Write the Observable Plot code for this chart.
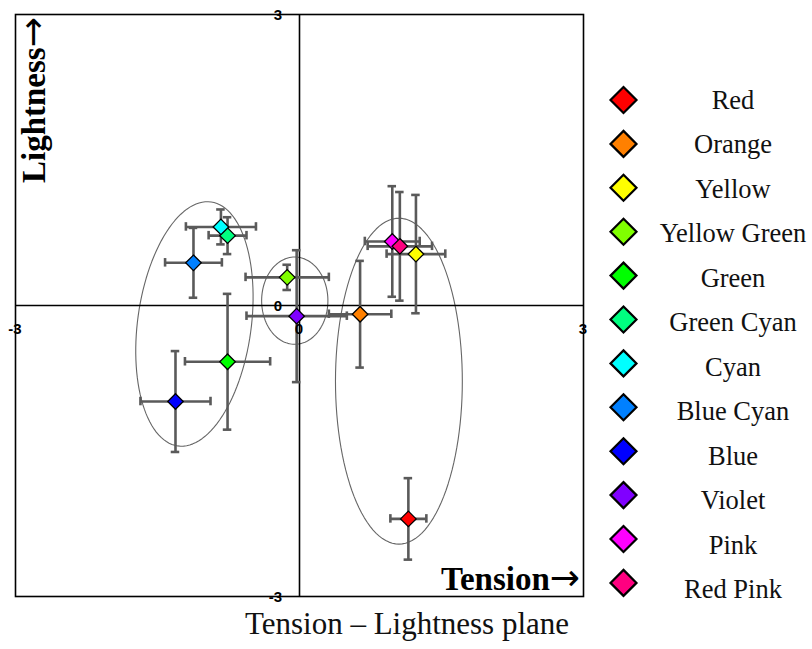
<!DOCTYPE html>
<html><head><meta charset="utf-8">
<script src="https://cdn.jsdelivr.net/npm/d3@7"></script>
<script src="https://cdn.jsdelivr.net/npm/@observablehq/plot@0.6"></script>
<style>
body{margin:0;background:#fff;}
#wrap{position:relative;width:812px;height:649px;overflow:hidden;background:#fff;}
#wrap svg{position:absolute;left:0;top:0;}
</style></head><body><div id="wrap"></div>
<script>
// ---- data ----
const names = ["Red","Orange","Yellow","Yellow Green","Green","Green Cyan","Cyan","Blue Cyan","Blue","Violet","Pink","Red Pink"];
const colors = ["#ff0000","#ff8000","#ffff00","#80ff00","#00ff00","#00ff80","#00ffff","#0080ff","#0000ff","#8000ff","#ff00ff","#ff0080"];
const tension = [1.15, 0.64, 1.23, -0.13, -0.76, -0.76, -0.83, -1.12, -1.31, -0.03, 0.98, 1.06];
const lightness = [-2.20, -0.09, 0.53, 0.29, -0.58, 0.72, 0.81, 0.44, -0.99, -0.11, 0.66, 0.61];
const tensionErr = [0.19, 0.33, 0.31, 0.44, 0.45, 0.20, 0.37, 0.30, 0.37, 0.53, 0.29, 0.34];
const lightnessErr = [0.42, 0.55, 0.61, 0.13, 0.70, 0.19, 0.18, 0.36, 0.52, 0.68, 0.57, 0.56];
// cluster ellipses (data units)
const ellipseCx = [-1.11, -0.05, 1.05];
const ellipseCy = [-0.19, 0.05, -0.78];
const ellipseRx = [0.60, 0.35, 0.67];
const ellipseRy = [1.27, 0.45, 1.68];
const ellipseTilt = [8, 0, 0];
// ticks & texts
const xTicks = [-3, 0, 3];
const yTicks = [-3, 0, 3];
const xTitle = "Tension";
const yTitle = "Lightness";
const arrow = "\u2192";
const caption = "Tension \u2013 Lightness plane";

const data = names.map((name, i) => ({name, color: colors[i], x: tension[i], y: lightness[i], ex: tensionErr[i], ey: lightnessErr[i]}));
const ellPts = [];
ellipseCx.forEach((cx, k) => {
  const phi = ellipseTilt[k] * Math.PI / 180;
  for (let j = 0; j <= 120; j++) {
    const t = j / 120 * 2 * Math.PI;
    const u = ellipseRx[k] * Math.cos(t), v = ellipseRy[k] * Math.sin(t);
    ellPts.push({id: k, x: cx + u * Math.cos(phi) + v * Math.sin(phi), y: ellipseCy[k] - u * Math.sin(phi) + v * Math.cos(phi)});
  }
});

const capX = 0.045, capY = 0.044;
const eb = {stroke: "#5a5a5a", strokeWidth: 2.6};

const chart = Plot.plot({
  width: 812, height: 610,
  marginLeft: 15, marginRight: 229, marginTop: 14, marginBottom: 14,
  x: {domain: [-3, 3], axis: null},
  y: {domain: [-3, 3], axis: null},
  color: {type: "identity"},
  style: {background: "transparent", overflow: "visible"},
  marks: [
    Plot.line(ellPts, {x: "x", y: "y", z: "id", stroke: "#666", strokeWidth: 1.1}),
    Plot.ruleX([0], {stroke: "#000", strokeWidth: 1.6}),
    Plot.ruleY([0], {stroke: "#000", strokeWidth: 1.6}),
    Plot.frame({stroke: "#000", strokeWidth: 1.6}),
    Plot.ruleY(data, {y: "y", x1: d => d.x - d.ex, x2: d => d.x + d.ex, ...eb}),
    Plot.ruleX(data, {x: "x", y1: d => d.y - d.ey, y2: d => d.y + d.ey, ...eb}),
    Plot.ruleX(data, {x: d => d.x - d.ex, y1: d => d.y - capY, y2: d => d.y + capY, ...eb}),
    Plot.ruleX(data, {x: d => d.x + d.ex, y1: d => d.y - capY, y2: d => d.y + capY, ...eb}),
    Plot.ruleY(data, {y: d => d.y - d.ey, x1: d => d.x - capX, x2: d => d.x + capX, ...eb}),
    Plot.ruleY(data, {y: d => d.y + d.ey, x1: d => d.x - capX, x2: d => d.x + capX, ...eb}),
    Plot.dot(data, {x: "x", y: "y", symbol: "diamond2", r: 7, fill: "color", stroke: "#000", strokeWidth: 1.3})
  ]
});
const wrap = document.getElementById("wrap");
wrap.appendChild(chart);
const sx = chart.scale("x"), sy = chart.scale("y");

// ---- tick labels, titles, legend & caption overlay ----
const serif = "Liberation Serif, Times New Roman, serif";
const ov = d3.select(wrap).append("svg").attr("width", 812).attr("height", 649);
const tl = ov.append("g").attr("font-family", "Liberation Sans, Arial, sans-serif").attr("font-weight", "bold")
  .attr("font-size", 15).attr("fill", "#000");
tl.selectAll("text.yt").data(yTicks).join("text").attr("class", "yt")
  .attr("x", sx.apply(0) - 17).attr("y", d => sy.apply(d) + 5.5).attr("text-anchor", "end").text(d => String(d));
tl.selectAll("text.xt").data(xTicks).join("text").attr("class", "xt")
  .attr("x", d => sx.apply(d)).attr("y", sy.apply(0) + 28.5).attr("text-anchor", "middle").text(d => String(d));

const xt = ov.append("text").attr("x", 580).attr("y", 590).attr("text-anchor", "end")
  .attr("font-family", serif).attr("font-weight", "bold").attr("font-size", 33).attr("fill", "#000");
xt.append("tspan").text(xTitle);
xt.append("tspan").attr("font-family", "DejaVu Sans").attr("font-weight", "normal").attr("font-size", 36).text(arrow);
const yt = ov.append("text").attr("transform", "translate(45,183) rotate(-90)").attr("text-anchor", "start")
  .attr("font-family", serif).attr("font-weight", "bold").attr("font-size", 33).attr("fill", "#000");
yt.append("tspan").text(yTitle);
yt.append("tspan").attr("font-family", "DejaVu Sans").attr("font-weight", "normal").attr("font-size", 36).text(arrow);

const lg = ov.selectAll("g.item").data(data).join("g").attr("class", "item");
lg.append("path")
  .attr("d", "M0,-13L13,0L0,13L-13,0Z")
  .attr("transform", (d, i) => `translate(623.5,${100 + i * 43.9})`)
  .attr("fill", d => d.color).attr("stroke", "#000").attr("stroke-width", 2.2);
lg.append("text")
  .attr("x", 733).attr("y", (d, i) => 108.6 + i * 44.5)
  .attr("text-anchor", "middle")
  .attr("font-family", serif)
  .attr("font-size", 26.5).attr("fill", "#111")
  .text(d => d.name);
ov.append("text").attr("x", 407).attr("y", 634).attr("text-anchor", "middle")
  .attr("font-family", serif)
  .attr("font-size", 31).attr("fill", "#111").text(caption);
</script>
</body></html>
